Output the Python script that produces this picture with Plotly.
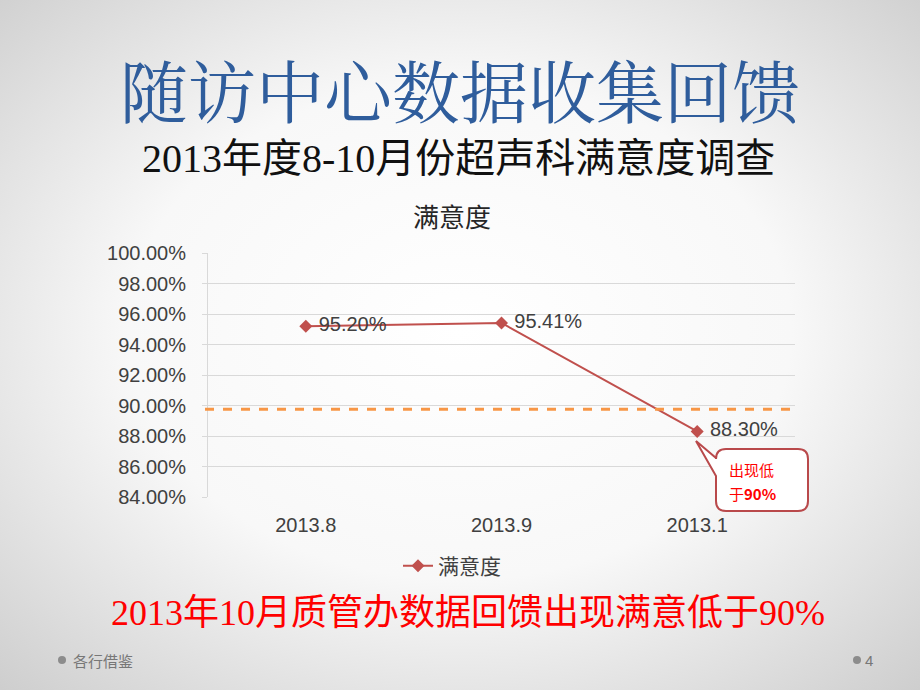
import plotly.graph_objects as go
from urllib.parse import quote

# ---- data ----
categories = ["2013.8", "2013.9", "2013.1"]
satisfaction = [95.20, 95.41, 88.30]
data_labels = ["95.20%", "95.41%", "88.30%"]
series_name = "满意度"
threshold = 89.75
y_ticks = [84, 86, 88, 90, 92, 94, 96, 98, 100]
y_tick_labels = ["84.00%", "86.00%", "88.00%", "90.00%", "92.00%", "94.00%", "96.00%", "98.00%", "100.00%"]

W, H = 920, 690
L, R, T, B = 208, 795, 253, 497  # plot area in pixels


def px(x):
    return (x - L) / (R - L)


def py(y):
    return (B - y) / (B - T)


fig = go.Figure()

fig.add_trace(go.Scatter(
    x=categories, y=satisfaction, name=series_name,
    mode="lines+markers+text",
    text=["\u00a0" + s for s in data_labels], textposition="middle right",
    textfont=dict(family="Liberation Sans", size=20, color="#404040"),
    line=dict(color="#c0504d", width=2),
    marker=dict(symbol="diamond", size=10, color="#c0504d"),
    cliponaxis=False,
))

# background radial gradient
svg = ("<svg xmlns='http://www.w3.org/2000/svg' width='920' height='690' preserveAspectRatio='none'>"
       "<defs><radialGradient id='g' cx='50%' cy='48%' r='72%'>"
       "<stop offset='0' stop-color='#ffffff'/>"
       "<stop offset='0.5' stop-color='#f8f8f8'/>"
       "<stop offset='1' stop-color='#cecece'/>"
       "</radialGradient></defs>"
       "<rect width='920' height='690' fill='url(#g)'/></svg>")
bg_src = "data:image/svg+xml;charset=utf-8," + quote(svg)

shapes = [
    dict(type="line", xref="paper", yref="y", x0=px(205), x1=1, y0=threshold, y1=threshold,
         line=dict(color="#f79646", width=3, dash="dash")),
]

# callout box (rounded rect with pointer)
bx0, bx1, by0, by1, rr = 716, 808, 449, 511, 10
tipx, tipy = 696, 441
wy0, wy1 = 458, 476


def P(x, y):
    return f"{px(x):.5f},{py(y):.5f}"


path = (f"M {P(bx0+rr, by0)} L {P(bx1-rr, by0)} Q {P(bx1, by0)} {P(bx1, by0+rr)} "
        f"L {P(bx1, by1-rr)} Q {P(bx1, by1)} {P(bx1-rr, by1)} "
        f"L {P(bx0+rr, by1)} Q {P(bx0, by1)} {P(bx0, by1-rr)} "
        f"L {P(bx0, wy1)} L {P(tipx, tipy)} L {P(bx0, wy0)} "
        f"L {P(bx0, by0+rr)} Q {P(bx0, by0)} {P(bx0+rr, by0)} Z")
shapes.append(dict(type="path", xref="paper", yref="paper", path=path,
                   fillcolor="white", line=dict(color="#b9494b", width=2), layer="above"))

# footer bullets
for cx in (62, 857):
    shapes.append(dict(type="circle", xref="paper", yref="paper",
                       x0=px(cx - 4), x1=px(cx + 4), y0=py(656), y1=py(664),
                       fillcolor="#8c8c8c", line=dict(width=0)))


def txt(text, x, y, size, color, family="Noto Sans CJK SC", xanchor="center", align="center"):
    return dict(text=text, x=px(x), y=py(y), xref="paper", yref="paper",
                xanchor=xanchor, yanchor="middle", align=align, showarrow=False,
                font=dict(family=family, size=size, color=color))


annotations = [
    txt("随访中心数据收集回馈", 460, 88, 68, "#2f5d9c", "Noto Serif CJK SC, Noto Sans CJK SC"),
    txt("2013年度8-10月份超声科满意度调查", 458, 158, 40, "#111111", "Liberation Serif, Noto Sans CJK SC"),
    txt("满意度", 452, 215, 26, "#262626"),
    txt("2013年10月质管办数据回馈出现满意低于90%", 468, 613, 36, "#ff0000", "Liberation Serif, Noto Sans CJK SC"),
    txt("出现低", 727, 469, 15, "#ff0000", xanchor="left", align="left"),
    txt("于<b>90%</b>", 727, 493, 15, "#ff0000", xanchor="left", align="left"),
    txt("各行借鉴", 71, 660, 15, "#777777", xanchor="left"),
    txt("4", 863, 660, 15, "#777777", "Liberation Sans", xanchor="left"),
]

fig.update_layout(
    width=W, height=H,
    margin=dict(l=L, r=W - R, t=T, b=H - B, pad=0),
    paper_bgcolor="#ececec", plot_bgcolor="rgba(0,0,0,0)",
    images=[dict(source=bg_src, xref="paper", yref="paper",
                 x=px(0), y=py(0), sizex=W / (R - L), sizey=H / (B - T),
                 xanchor="left", yanchor="top", sizing="stretch", layer="below")],
    shapes=shapes,
    annotations=annotations,
    showlegend=True,
    legend=dict(orientation="h", x=px(452), xanchor="center", y=py(566), yanchor="middle",
                bgcolor="rgba(0,0,0,0)",
                font=dict(family="Noto Sans CJK SC", size=21, color="#404040")),
    xaxis=dict(type="category", range=[-0.5, 2.5], showgrid=False, showline=False, ticks="",
               tickfont=dict(family="Liberation Sans", size=20, color="#404040"),
               ticklabelstandoff=14),
    yaxis=dict(range=[84, 100], tickvals=y_ticks, ticktext=y_tick_labels,
               showgrid=True, gridcolor="#d9d9d9", gridwidth=1,
               showline=True, linecolor="#d9d9d9", linewidth=1,
               ticks="outside", ticklen=5, tickcolor="#d9d9d9",
               zeroline=False, ticklabelstandoff=12,
               tickfont=dict(family="Liberation Sans", size=20, color="#404040")),
)

fig.write_html("out.html")
